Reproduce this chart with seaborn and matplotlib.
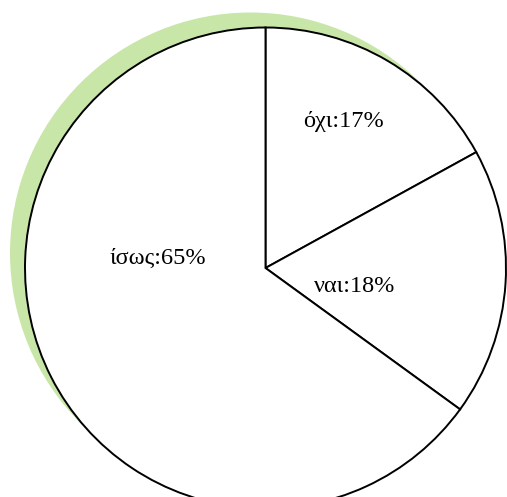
import matplotlib
matplotlib.use("Agg")
import matplotlib.pyplot as plt
from matplotlib.patches import Circle
import seaborn as sns

# Survey answers and their shares (%)
categories = ["όχι", "ναι", "ίσως"]
shares = [17, 18, 65]

sns.set_theme(style="white")
plt.rcParams["font.family"] = ["Liberation Serif", "DejaVu Serif"]

W, H = 507, 497
fig = plt.figure(figsize=(W / 100, H / 100), dpi=100)
ax = fig.add_axes([0, 0, 1, 1])

cx, cy, r = 265.5, H - 268, 240.5

# soft green backdrop disc offset toward the upper left
ax.add_patch(Circle((cx - 15, cy + 15), r, facecolor="#c9e6a9",
                    edgecolor="none", zorder=1))

wedges, _ = ax.pie(shares, startangle=90, counterclock=False,
                   center=(cx, cy), radius=r, colors=["white"] * 3,
                   wedgeprops=dict(edgecolor="black", linewidth=1.4),
                   frame=True)
for w in wedges:
    w.set_zorder(2)
ax.set_xlim(0, W)
ax.set_ylim(0, H)
ax.set_aspect("equal")
ax.axis("off")

label_pos = [(343, 121), (355, 287), (158, 258)]
for cat, val, (x, y) in zip(categories, shares, label_pos):
    ax.text(x, H - y, f"{cat}:{val}%", ha="center", va="center",
            fontsize=17.5, color="black", zorder=3)

fig.savefig("out.png", dpi=100)
